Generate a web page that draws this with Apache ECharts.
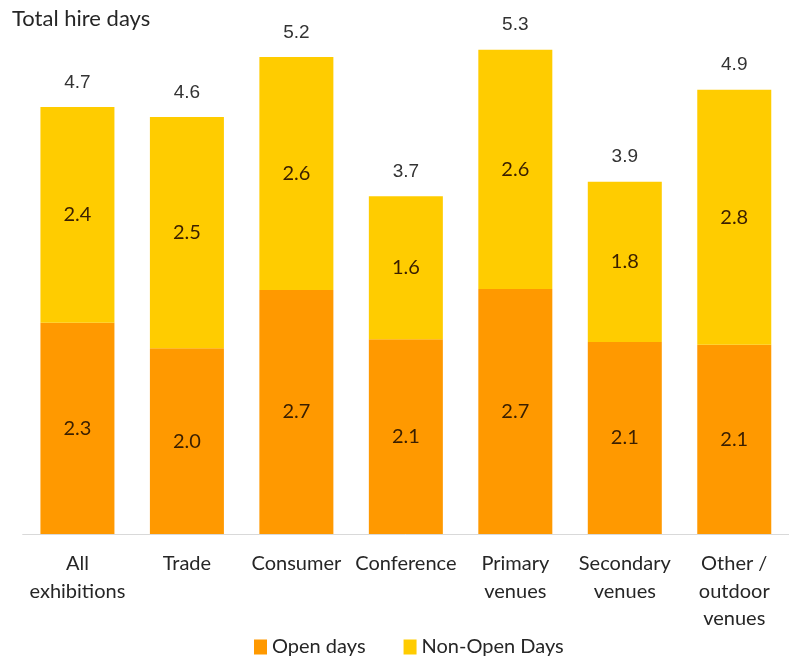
<!DOCTYPE html>
<html>
<head>
<meta charset="utf-8">
<script src="https://cdn.jsdelivr.net/npm/echarts@6/dist/echarts.min.js"></script>
<style>
html,body{margin:0;padding:0;background:#fff;}
#c{width:789px;height:662px;}
</style>
</head>
<body>
<div id="c"></div>
<script>
const categories = ["All\nexhibitions", "Trade", "Consumer", "Conference", "Primary\nvenues", "Secondary\nvenues", "Other /\noutdoor\nvenues"];
const openDays = [2.32, 2.04, 2.68, 2.14, 2.69, 2.11, 2.08];
const nonOpenDays = [2.37, 2.54, 2.56, 1.57, 2.63, 1.76, 2.80];
const totals = openDays.map((v, i) => v + nonOpenDays[i]);
const zeros = openDays.map(() => 0);

const chart = echarts.init(document.getElementById('c'), null, {renderer: 'canvas'});
const fmt = p => Number(p.value).toFixed(1);
chart.setOption({
  animation: false,
  title: {
    text: 'Total hire days',
    left: 7, top: 3,
    textStyle: {fontFamily: 'Lato', fontSize: 22, fontWeight: 'normal', color: '#262626'}
  },
  legend: {
    data: ['Open days', 'Non-Open Days'],
    top: 637, left: 254, padding: 0,
    itemWidth: 13, itemHeight: 15, itemGap: 38,
    icon: 'rect',
    textStyle: {fontFamily: 'Lato', fontSize: 20, color: '#262626'}
  },
  grid: {left: 22.7, width: 774.2, top: 6, bottom: 128, containLabel: false},
  xAxis: {
    type: 'category',
    data: categories,
    axisLine: {lineStyle: {color: '#d9d9d9', width: 1}},
    axisTick: {show: false},
    axisLabel: {fontFamily: 'Lato', fontSize: 20, color: '#262626', lineHeight: 27.5, margin: 16, interval: 0}
  },
  yAxis: {
    type: 'value', min: 0, max: 5.8,
    show: false, splitLine: {show: false}
  },
  series: [
    {
      name: 'Open days', type: 'bar', stack: 's', barWidth: 74,
      data: openDays,
      itemStyle: {color: '#FF9900'},
      label: {show: true, position: 'inside', formatter: fmt, fontFamily: 'Lato', fontSize: 20, color: '#3a1f00'}
    },
    {
      name: 'Non-Open Days', type: 'bar', stack: 's', barWidth: 74,
      data: nonOpenDays,
      itemStyle: {color: '#FFCC00'},
      label: {show: true, position: 'inside', formatter: fmt, fontFamily: 'Lato', fontSize: 20, color: '#3a1f00'}
    },
    {
      name: 'Total', type: 'bar', stack: 's', barWidth: 74,
      data: zeros,
      itemStyle: {color: 'transparent'},
      label: {show: true, position: 'top', distance: 15, formatter: p => totals[p.dataIndex].toFixed(1),
        fontFamily: 'Liberation Sans', fontSize: 19, color: '#333333'}
    }
  ]
});
</script>
</body>
</html>
